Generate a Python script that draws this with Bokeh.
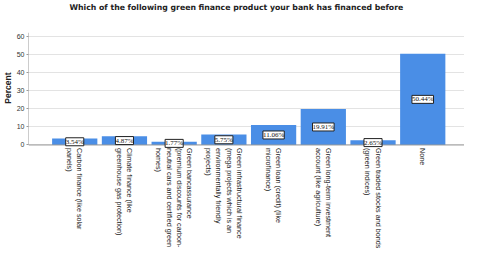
import math
from bokeh.plotting import figure
from bokeh.models import ColumnDataSource, LabelSet, FixedTicker, Range1d, Title, Span
from bokeh.core.properties import value
from bokeh.embed import file_html
from bokeh.resources import INLINE

categories = [
    "Carbon finance (like solar\npanels)",
    "Climate finance (like\ngreenhouse gas protection)",
    "Green bancassurance\n(premium discounts for carbon-\nneutral cars and certified green\nhomes)",
    "Green infrastructural finance\n(mega projects which is an\nenvironmentally friendly\nprojects)",
    "Green loan (credit) (like\nmicrofinance)",
    "Green long-term investment\naccount (like agriculture)",
    "Green traded stocks and bonds\n(green indices)",
    "None",
]
percent = [3.54, 4.87, 1.77, 5.75, 11.06, 19.91, 2.65, 50.44]
y_ticks = [0, 10, 20, 30, 40, 50, 60]
y_max = 62.2
y_min = -57.8
title_text = "Which of the following green finance product your bank has financed before"

xs = list(range(len(categories)))
src = ColumnDataSource(dict(
    x=xs,
    top=percent,
    mid=[v / 2 for v in percent],
    lab=["%.2f%%" % v for v in percent],
    zero=[0] * len(xs),
    cat=categories,
))

x_range = Range1d(-0.93, 7.84)
p = figure(width=464, height=249, output_backend="svg", toolbar_location=None,
           title=None, x_range=x_range, y_range=Range1d(y_min, y_max),
           x_axis_location=None,
           min_border_left=0, min_border_right=0, min_border_top=0, min_border_bottom=0)

spacer = Title(text=" ", text_font_size="17px", standoff=0)
p.add_layout(spacer, "above")
title = Title(text=title_text, align="left", offset=41, standoff=0,
              text_font="DejaVu Sans", text_font_size="7.75px",
              text_font_style="bold", text_color="#222222")
p.add_layout(title, "above")

p.vbar(x="x", top="top", width=0.91, source=src, fill_color="#4a8ee6", line_color=None)

# axis lines limited to the 0..max region
p.segment(x0=x_range.start, y0=0, x1=x_range.start, y1=y_max, line_color="#999999", line_width=1)
p.add_layout(Span(location=0, dimension="width", line_color="#999999", line_width=1))

labels = LabelSet(x="x", y="mid", text="lab", source=src, text_align="center",
                  text_baseline="middle", text_font_size="7px", text_font="Liberation Sans",
                  text_color="#111111",
                  background_fill_color="white", border_line_color="#222222",
                  border_line_width=1)
p.add_layout(labels)

cat_labels = LabelSet(x="x", y="zero", text="cat", source=src, angle=-math.pi / 2,
                      y_offset=-3, text_align="left", text_baseline="middle",
                      text_font=value("Liberation Sans"), text_font_size=value("7.2px"),
                      text_line_height=1.15, text_color="#222222")
p.add_layout(cat_labels)

p.yaxis.ticker = FixedTicker(ticks=y_ticks)
p.yaxis.axis_label = None
p.yaxis.major_label_text_font = "Liberation Sans"
p.yaxis.major_label_text_font_size = "7px"
p.yaxis.major_label_text_color = "#333333"
p.yaxis.major_label_standoff = 2
p.yaxis.major_tick_out = 2
p.yaxis.major_tick_in = 0
p.yaxis.minor_tick_out = 0
p.yaxis.minor_tick_in = 0
p.yaxis.major_tick_line_color = "#999999"
p.yaxis.minor_tick_line_color = None
p.yaxis.axis_line_color = None

ylabel = Title(text="Percent", align="right", offset=40, standoff=1,
               text_font="Liberation Sans", text_font_size="8.5px",
               text_font_style="bold", text_color="#222222")
p.add_layout(ylabel, "left")

p.xgrid.grid_line_color = None
p.ygrid.grid_line_color = "#e3e3e3"
p.outline_line_color = None

open("out.html", "w").write(file_html(p, INLINE))
